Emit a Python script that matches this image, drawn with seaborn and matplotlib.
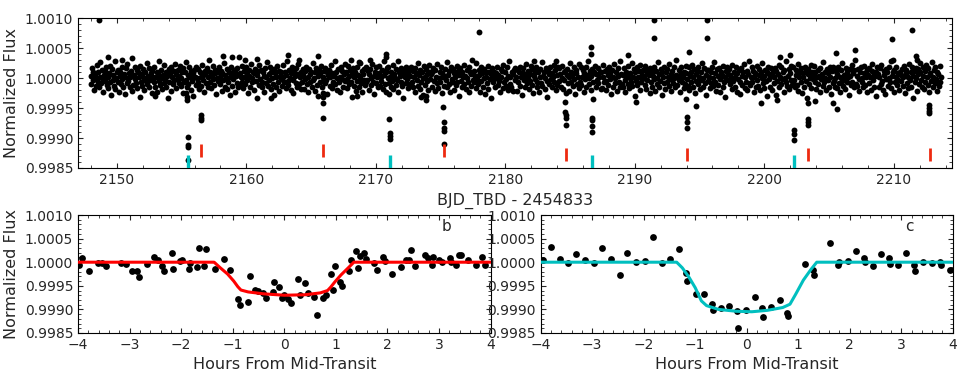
import numpy as np
import seaborn as sns
import matplotlib.pyplot as plt
from matplotlib.ticker import MultipleLocator, FormatStrFormatter

# ---- top panel: light curve ----
# time span of the dense out-of-transit band (BJD_TBD - 2454833)
band_t0 = 2147.97
band_t1 = 2213.65
# flux deviations of the band around 1.0, in units of band_unit
band_unit = 1.4e-5
band_dev = [
    3, -7, 12, -2, 8, -14, 5, 0, -9, 16, -4, 7, -11, 2, 19, -6, 10, -1, -17, 4, 9, -3, 13, -8, 1, -12, 6, 15, -5, -20,
    11, -2, 4, -9, 21, -13, 0, 7, -4, 10, -16, 3, 8, -7, -1, 14, -10, 5, 2, -19, 12, -6, 17, -3, 6, -11, 1, 9, -15, 24,
    -8, 4, 13, -1, -6, 10, -12, 7, 2, -22, 15, -4, 5, -9, 11, 0, -14, 8, -3, 18, -7, 3, -10, 12, -2, 6, -18, 9, 1, -5,
    14, -11, 2, 7, -16, 5, -3, 20, -8, 0, 10, -13, 4, -6, 16, -1, 8, -10, 3, -24, 11, -4, 6, -15, 13, 1, -7, 9, -2, 17,
    -12, 5, -1, 10, -6, 3, 15, -9, 0, 8, -18, 12, -4, 7, -2, 19, -11, 4, -7, 13, 1, -14, 9, -3, 6, -21, 10, 2, -8, 14,
    0, -5, 11, -13, 7, 2, -9, 16, -2, 4, -17, 9, 5, -6, 12, -10, 1, 22, -4, 8, -12, 3, -1, 15, -8, 6, 10, -19, 0, 7,
    -3, 13, -7, 1, 9, -15, 6, -2, 18, -10, 4, 0, -13, 11, -5, 7, -20, 2, 14, -9, 5, -1, 10, -16, 8, 3, -6, 12, -11, 25,
    6, -8, 2, 15, -4, -12, 9, 1, -7, 13, -2, 5, -18, 10, 3, -10, 17, -5, 0, 8, -14, 6, 11, -3, -23, 4, 9, -8, 16, -1,
    10, -4, -11, 7, 3, -16, 12, -6, 1, 19, -9, 5, -2, 14, -13, 8, 0, -7, 11, -20, 6, 2, -10, 15, -4, 9, -15, 3, 7, -1,
    -9, 16, 1, -5, 8, -12, 4, 21, -3, -8, 10, 0, -14, 6, 13, -2, -18, 9, 3, -6, 12, -11, 5, 17, -7, 1, -13, 8, -4, 11,
    4, -13, 9, -1, 14, -7, 2, -17, 11, 5, -4, 8, -10, 18, -2, 0, -15, 7, 12, -8, 3, -21, 10, -5, 6, 15, -11, 1, -3, 9,
    -6, 12, -2, 7, -19, 4, 10, -9, 1, 16, -12, 6, -4, 3, 20, -7, 8, -14, 0, 11, -5, 2, -16, 13, -1, 9, -10, 5, 17, -3,
    8, -1, -12, 15, 3, -7, 10, -4, -22, 6, 12, -9, 1, 7, -15, 14, -3, 4, -11, 19, 0, -6, 9, -17, 5, 11, -2, -8, 13, -5,
    -2, 9, 5, -14, 11, 0, -8, 17, -4, 3, -19, 8, 13, -6, 2, -11, 6, 15, -9, 1, -3, 10, -13, 4, 21, -7, 7, -16, 12, 0,
    13, -6, 1, -10, 8, -3, 16, -13, 5, 0, 11, -8, -2, 20, -16, 7, 3, -5, 12, -9, 4, -24, 9, 2, -6, 14, -1, -12, 6, 10,
    -7, 3, 14, -4, -11, 9, 1, -17, 12, 6, -2, 18, -9, 4, -13, 10, -5, 7, 0, -20, 15, 2, -8, 11, -3, 5, -14, 16, -1, 8,
    5, -10, 7, 12, -3, -15, 10, 2, -6, 17, -12, 0, 8, -4, 13, -18, 6, 1, -9, 11, 3, -2, 19, -11, 4, -7, 9, -16, 14, -5,
    -1, 11, -14, 6, 2, -8, 15, -5, 9, -21, 4, 12, -3, 7, -10, 1, 16, -7, 3, -13, 10, 0, -4, 14, -17, 8, 5, -9, 22, -2,
    9, -5, 3, -12, 18, -1, -7, 10, 4, -16, 13, -3, 6, -10, 0, 11, -19, 7, 2, -6, 15, -13, 8, -1, 5, -23, 12, -4, 1, 7,
    -11, 6, 0, 14, -8, 4, -3, -17, 11, 2, 9, -12, 16, -5, 7, -1, -9, 13, -14, 3, 20, -7, 1, -10, 8, 5, -15, 10, -2, 12,
    2, -15, 10, -4, 7, 13, -9, 1, -20, 6, 12, -2, 4, -11, 17, -6, 0, 9, -13, 5, -3, 15, -8, 11, -18, 3, 7, -1, 14, -10,
    -4, 8, -16, 11, 1, -6, 19, -9, 3, 7, -13, 0, 12, -3, -22, 9, 5, -7, 14, -1, 6, -11, 2, 16, -5, 10, -14, 4, -8, 13,
    12, -3, 5, -10, 0, 15, -13, 7, -2, 9, -18, 4, 11, -6, 1, -15, 18, -4, 8, 3, -9, 13, -1, -19, 6, 10, -7, 2, -12, 17,
    -5, 14, -8, 2, 10, -17, 6, -1, 13, -11, 4, 21, -7, 0, 9, -14, 3, 11, -4, -25, 7, 15, -10, 5, -2, 12, -6, 1, 8, -13,
    7, -12, 1, 16, -5, 9, -3, -14, 11, 4, -8, 13, -1, 6, -19, 10, 2, -10, 17, -6, 0, 8, -15, 12, 3, -4, 20, -11, 5, -7,
    -10, 4, 12, -2, -16, 8, 3, -7, 15, -12, 6, 0, -4, 18, -9, 2, 11, -21, 7, -3, 13, -8, 1, 9, -14, 16, -5, 4, -1, 10,
    1, -8, 15, -13, 6, -2, 10, 4, -18, 12, -5, 7, -11, 3, 14, -1, -15, 9, 0, -7, 19, -10, 5, -3, 11, -20, 8, 2, -6, 13,
    -13, 7, -4, 11, 2, -9, 17, -1, 5, -15, 9, -6, 13, 0, -11, 4, 22, -8, 3, -2, 10, -16, 6, 14, -4, 1, -12, 8, -7, 15,
    6, -1, -9, 13, -14, 3, 8, -5, 16, -10, 1, 11, -18, 5, -3, 9, -7, 14, 2, -13, 7, -2, 18, -11, 0, 12, -6, 4, -20, 10,
    -3, 10, 2, -12, 7, -6, 14, -9, 0, 19, -4, 6, -15, 11, 3, -8, 12, -1, -17, 8, 4, -10, 15, -5, 1, -22, 9, 13, -2, 5,
    11, -7, 4, 0, -13, 16, -3, 8, -10, 2, 13, -16, 6, -1, 10, -5, -19, 12, 3, -8, 7, 17, -12, 1, -4, 9, -14, 5, 20, -6,
    -8, 2, 13, -5, 9, -17, 1, 6, -11, 15, -2, -9, 11, 4, -14, 8, 0, 18, -6, 3, -12, 10, -3, 7, -21, 14, -1, 5, -10, 12,
    4, -14, 8, 1, -6, 12, -20, 9, -3, 5, 16, -11, 2, -7, 13, -1, 7, -16, 10, 0, -4, 21, -9, 3, -13, 11, 6, -2, 15, -8,
    -6, 13, -2, -11, 10, 4, -8, 17, -15, 1, 7, -4, 12, -18, 6, 2, -10, 14, -3, 9, -23, 5, 11, -7, 0, 16, -12, 8, -1, 3,
    15, -4, 7, -13, 1, 10, -7, 3, -17, 12, -1, 5, -9, 19, -5, 0, 8, -14, 11, -2, 6, -11, 14, 2, -19, 9, -6, 13, -3, -10,
    0, 9, -12, 5, 14, -6, 2, -16, 10, -3, 18, -9, 4, -1, -13, 12, 7, -5, 1, -20, 11, 3, -8, 16, -4, 6, -11, 10, 22, -7,
    -9, 3, 11, -1, -15, 7, 13, -4, 0, -11, 15, 6, -8, 2, 10, -17, 4, 12, -6, 1, -14, 9, 17, -2, 5, -10, 3, -21, 8, 14,
    5, -11, 1, 12, -7, 16, -3, -14, 9, 4, -19, 11, -1, 7, -9, 14, 0, -5, 20, -12, 3, 8, -16, 10, -4, 2, 13, -8, -2, 6,
    -14, 8, 4, -3, 11, -9, 1, 15, -18, 6, 10, -6, 2, -12, 17, -2, 7, -10, 13, 3, -24, 9, -4, 12, 0, -15, 5, 11, -7, 18,
    7, -2, -10, 14, 3, -13, 9, -5, 16, 1, -8, 12, -17, 4, 6, -3, 19, -11, 2, 10, -6, 13, -1, -15, 8, 5, -9, 15, -4, 1,
]

# isolated points away from the band
outlier_t = [2148.64, 2149.31, 2150.40, 2152.91, 2158.16, 2158.90, 2159.88, 2160.79, 2161.87,
             2163.20, 2164.10, 2165.52, 2168.12, 2168.51, 2168.80, 2169.54, 2170.77, 2170.80,
             2173.50, 2173.86, 2173.90, 2177.93, 2182.20, 2183.95, 2186.58, 2186.62, 2189.46,
             2190.11, 2191.47, 2191.47, 2194.17, 2194.71, 2195.59, 2195.59, 2199.78, 2201.02,
             2201.20, 2202.02, 2203.93, 2205.34, 2205.52, 2205.65, 2206.99, 2209.85, 2209.92,
             2211.44, 2211.75, 2211.77]
outlier_f = [1.00097, 1.00036, 1.00031, 0.99971, 1.00038, 1.00036, 1.00030, 1.00033, 0.99967,
             1.00039, 1.00030, 1.00038, 1.00031, 0.99970, 1.00026, 1.00031, 1.00040, 1.00036,
             0.99969, 0.99970, 0.99963, 1.00078, 1.00029, 1.00028, 1.00053, 1.00040, 1.00039,
             0.99960, 1.00068, 1.00098, 1.00044, 0.99953, 1.00098, 1.00068, 0.99958, 0.99963,
             1.00036, 1.00039, 0.99962, 0.99959, 1.00043, 0.99948, 1.00048, 1.00065, 1.00031,
             1.00080, 1.00037, 1.00031]

# in-transit points of planets b and c
transit_t = [2155.33, 2155.40, 2155.45, 2155.50, 2155.50, 2155.52, 2155.51,
             2156.48, 2156.50, 2156.50,
             2165.90, 2165.91, 2165.91, 2165.92,
             2171.02, 2171.05, 2171.07, 2171.08, 2171.10,
             2175.22, 2175.24, 2175.24, 2175.26, 2175.27,
             2184.62, 2184.64, 2184.65, 2184.65, 2184.66,
             2186.70, 2186.71, 2186.73, 2186.72,
             2193.98, 2194.00, 2194.00, 2194.01,
             2202.26, 2202.27, 2202.30,
             2203.35, 2203.36, 2203.37, 2203.37,
             2212.74, 2212.75, 2212.74, 2212.75]
transit_f = [0.99976, 0.99969, 0.99964, 0.99902, 0.99888, 0.99885, 0.99863,
             0.99938, 0.99933, 0.99930,
             0.99976, 0.99969, 0.99959, 0.99933,
             0.99973, 0.99932, 0.99908, 0.99903, 0.99899,
             0.99952, 0.99927, 0.99916, 0.99912, 0.99890,
             0.99960, 0.99943, 0.99938, 0.99934, 0.99921,
             0.99934, 0.99930, 0.99920, 0.99910,
             0.99966, 0.99936, 0.99927, 0.99916,
             0.99913, 0.99906, 0.99896,
             0.99958, 0.99932, 0.99927, 0.99921,
             0.99956, 0.99950, 0.99945, 0.99942]

# transit time markers
b_mark_t = [2156.51, 2165.91, 2175.27, 2184.67, 2194.02, 2203.36, 2212.76]
b_mark_lo = [0.99869, 0.99869, 0.99869, 0.99862, 0.99862, 0.99862, 0.99862]
b_mark_hi = [0.99890, 0.99890, 0.99890, 0.99884, 0.99884, 0.99884, 0.99884]
c_mark_t = [2155.51, 2171.10, 2186.73, 2202.28]

# ---- bottom panels: phase-folded transits ----
b_hours = [-3.99, -3.93, -3.79, -3.61, -3.53, -3.45, -3.16, -3.07, -2.96, -2.86, -2.81, -2.66,
           -2.53, -2.45, -2.37, -2.33, -2.17, -2.15, -2.02, -1.98, -1.85, -1.83, -1.70, -1.66,
           -1.55, -1.52, -1.35, -1.16, -1.06, -0.90, -0.85, -0.71, -0.67, -0.57, -0.50, -0.41,
           -0.36, -0.21, -0.19, -0.10, -0.05, 0.00, 0.08, 0.14, 0.26, 0.30, 0.40, 0.46, 0.58,
           0.63, 0.75, 0.81, 0.90, 0.94, 0.98, 1.08, 1.12, 1.26, 1.29, 1.39, 1.43, 1.46, 1.55,
           1.59, 1.75, 1.79, 1.92, 1.95, 2.09, 2.26, 2.37, 2.42, 2.45, 2.54, 2.72, 2.79, 2.86,
           2.88, 3.01, 3.05, 3.21, 3.24, 3.34, 3.39, 3.43, 3.56, 3.72, 3.83, 3.90]
b_flux = [0.99994, 1.00008, 0.99981, 0.99999, 0.99998, 0.99992, 0.99998, 0.99996, 0.99981, 0.99981,
          0.99968, 0.99996, 1.00012, 1.00005, 0.99991, 0.99982, 1.00020, 0.99986, 1.00002, 1.00004,
          0.99986, 0.99998, 0.99989, 1.00030, 0.99991, 1.00027, 0.99985, 1.00006, 0.99984, 0.99923,
          0.99909, 0.99916, 0.99971, 0.99942, 0.99940, 0.99935, 0.99924, 0.99937, 0.99958, 0.99947,
          0.99924, 0.99931, 0.99923, 0.99913, 0.99965, 0.99931, 0.99956, 0.99935, 0.99926, 0.99888,
          0.99924, 0.99930, 0.99975, 0.99942, 0.99991, 0.99957, 0.99950, 0.99982, 1.00004, 1.00023,
          0.99987, 1.00013, 1.00019, 1.00006, 0.99999, 0.99983, 1.00011, 1.00002, 0.99974, 0.99989,
          1.00004, 1.00004, 1.00025, 0.99992, 1.00015, 1.00008, 0.99994, 1.00011, 1.00004, 1.00001,
          1.00008, 1.00001, 0.99994, 1.00015, 1.00015, 1.00004, 0.99994, 1.00011, 0.99994]
b_model_h = [-4.0, -1.36, -1.25, -1.1, -0.98, -0.9, -0.84, -0.7, -0.4, 0.0, 0.4, 0.7, 0.84,
             0.9, 0.98, 1.1, 1.25, 1.35, 4.0]
b_model_f = [1.0, 1.0, 0.99989, 0.99975, 0.9996, 0.99948, 0.99941, 0.99937, 0.99933, 0.9993,
             0.99931, 0.99935, 0.9994, 0.99947, 0.99958, 0.99973, 0.99989, 1.0, 1.0]

c_hours = [-3.95, -3.80, -3.63, -3.47, -3.31, -3.14, -2.97, -2.81, -2.64, -2.47, -2.32, -2.15,
           -1.98, -1.82, -1.64, -1.48, -1.32, -1.17, -1.15, -0.99, -0.83, -0.68, -0.65, -0.49,
           -0.34, -0.18, -0.16, -0.01, 0.16, 0.30, 0.32, 0.48, 0.64, 0.79, 0.81, 1.13, 1.29,
           1.31, 1.62, 1.77, 1.79, 1.96, 2.12, 2.27, 2.29, 2.45, 2.60, 2.76, 2.78, 2.94, 3.10,
           3.25, 3.27, 3.43, 3.59, 3.75, 3.77, 3.95]
c_flux = [1.00004, 1.00033, 1.00007, 0.99998, 1.00017, 1.00005, 0.99998, 1.00031, 1.00006, 0.99972,
          1.00020, 1.00001, 1.00003, 1.00054, 0.99999, 1.00006, 1.00027, 0.99978, 0.99961, 0.99932,
          0.99932, 0.99912, 0.99899, 0.99903, 0.99908, 0.99896, 0.99861, 0.99898, 0.99927, 0.99904,
          0.99884, 0.99906, 0.99919, 0.99892, 0.99887, 0.99996, 0.99984, 0.99973, 1.00040, 0.99994,
          1.00001, 1.00003, 1.00023, 1.00008, 1.00001, 0.99993, 1.00017, 1.00008, 0.99996, 0.99994,
          1.00019, 0.99994, 0.99982, 1.00001, 0.99998, 1.00001, 0.99994, 0.99984]
c_model_h = [-4.0, -1.36, -1.25, -1.12, -1.0, -0.88, -0.78, -0.55, -0.2, 0.1, 0.4, 0.7, 0.84,
             0.95, 1.1, 1.25, 1.36, 4.0]
c_model_f = [1.0, 1.0, 0.99988, 0.99968, 0.99946, 0.99918, 0.99908, 0.999, 0.99896, 0.99895,
             0.99898, 0.99904, 0.99911, 0.99932, 0.99962, 0.99985, 1.0, 1.0]

sns.set_style('ticks', rc={
    'xtick.direction': 'in', 'ytick.direction': 'in',
    'xtick.top': True, 'ytick.right': True,
    'xtick.major.size': 5, 'ytick.major.size': 5,
    'xtick.minor.size': 2.5, 'ytick.minor.size': 2.5,
    'axes.edgecolor': 'black', 'axes.linewidth': 1.0,
})
plt.rcParams['font.family'] = ['DejaVu Sans']
plt.rcParams['xtick.labelsize'] = 10
plt.rcParams['ytick.labelsize'] = 10

fig = plt.figure(figsize=(9.69, 3.8), dpi=100)
ax_top = fig.add_axes([0.0805, 0.558, 0.902, 0.3935])
ax_b = fig.add_axes([0.0805, 0.1237, 0.4257, 0.3105])
ax_c = fig.add_axes([0.558, 0.1237, 0.4252, 0.3105])

band_t = np.linspace(band_t0, band_t1, len(band_dev))
band_f = 1.0 + np.array(band_dev) * band_unit

for t, f in [(band_t, band_f), (outlier_t, outlier_f), (transit_t, transit_f)]:
    sns.scatterplot(x=t, y=f, ax=ax_top, color='k', s=18, linewidth=0, legend=False)
ax_top.vlines(b_mark_t, b_mark_lo, b_mark_hi, colors='#ee2a10', lw=2.0, zorder=5)
ax_top.vlines(c_mark_t, 0.9985, 0.99871, colors='c', lw=2.4, zorder=5)
ax_top.set_xlim(2147.0, 2214.5)
ax_top.xaxis.set_major_locator(MultipleLocator(10))
ax_top.xaxis.set_minor_locator(MultipleLocator(2))
ax_top.set_xlabel('BJD_TBD - 2454833', fontsize=11.5)
ax_top.set_ylabel('Normalized Flux', fontsize=11.5)

panels = [(ax_b, b_hours, b_flux, b_model_h, b_model_f, 'r', 'b'),
          (ax_c, c_hours, c_flux, c_model_h, c_model_f, 'c', 'c')]
for ax, h, f, mh, mf, col, name in panels:
    sns.scatterplot(x=h, y=f, ax=ax, color='k', s=24, linewidth=0, legend=False, zorder=2)
    sns.lineplot(x=mh, y=mf, ax=ax, color=col, lw=2.2, sort=False, zorder=3)
    ax.set_xlim(-4, 4)
    ax.xaxis.set_major_locator(MultipleLocator(1))
    ax.xaxis.set_minor_locator(MultipleLocator(0.2))
    ax.set_xlabel('Hours From Mid-Transit', fontsize=11.5)
    ax.text(3.15, 1.00075, name, fontsize=11, ha='center', va='center')
ax_b.set_ylabel('Normalized Flux', fontsize=11.5)

for ax in (ax_top, ax_b, ax_c):
    ax.set_ylim(0.9985, 1.0010)
    ax.yaxis.set_major_locator(MultipleLocator(0.0005))
    ax.yaxis.set_minor_locator(MultipleLocator(0.0001))
    ax.yaxis.set_major_formatter(FormatStrFormatter('%.4f'))
    ax.tick_params(which='both', direction='in', top=True, right=True)

fig.savefig('out.png', dpi=100)
